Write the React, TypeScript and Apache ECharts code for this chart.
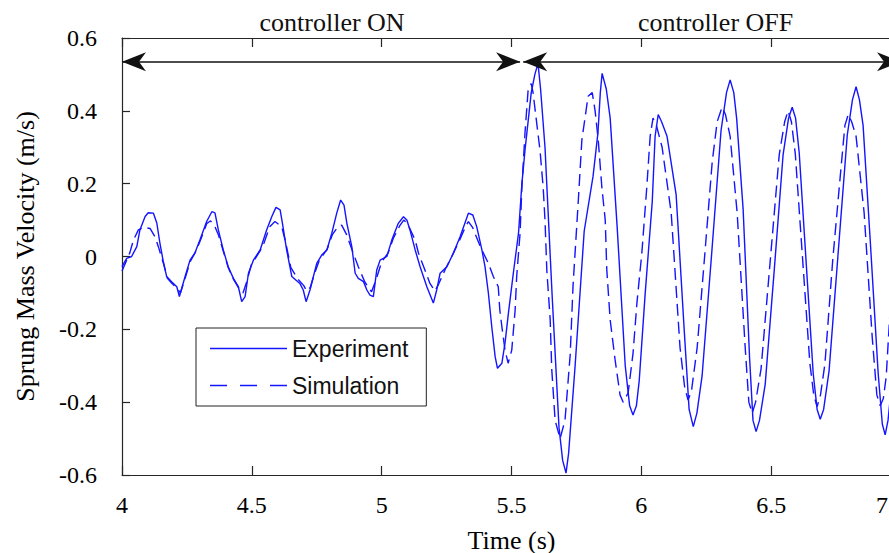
import React, { useEffect, useRef } from 'react';
import * as echarts from 'echarts';

// Experiment: [time (s), sprung mass velocity (m/s)]
const experiment: [number, number][] = [
  [4.000, -0.028], [4.018, -0.005], [4.037, 0.000], [4.057, 0.027], [4.069, 0.073], [4.089, 0.110],
  [4.101, 0.120], [4.121, 0.119], [4.134, 0.092], [4.146, 0.037], [4.158, -0.010], [4.172, -0.055],
  [4.191, -0.069], [4.211, -0.083], [4.221, -0.110], [4.243, -0.055], [4.262, -0.010], [4.281, 0.010],
  [4.300, 0.045], [4.326, 0.096], [4.346, 0.123], [4.358, 0.120], [4.371, 0.073], [4.390, 0.018],
  [4.409, -0.028], [4.429, -0.060], [4.448, -0.083], [4.461, -0.124], [4.474, -0.110], [4.487, -0.046],
  [4.506, -0.010], [4.532, 0.018], [4.557, 0.073], [4.577, 0.110], [4.593, 0.135], [4.609, 0.128],
  [4.619, 0.086], [4.634, 0.018], [4.654, -0.055], [4.686, -0.075], [4.698, -0.092], [4.709, -0.124],
  [4.724, -0.092], [4.737, -0.055], [4.750, -0.019], [4.769, 0.004], [4.789, 0.018], [4.808, 0.064],
  [4.827, 0.119], [4.842, 0.155], [4.855, 0.141], [4.866, 0.091], [4.885, 0.027], [4.898, -0.046],
  [4.910, -0.060], [4.930, -0.069], [4.943, -0.092], [4.955, -0.106], [4.968, -0.110], [4.981, -0.037],
  [4.994, -0.010], [5.020, 0.000], [5.039, 0.045], [5.064, 0.091], [5.084, 0.109], [5.097, 0.100],
  [5.109, 0.073], [5.129, 0.018], [5.148, -0.028], [5.174, -0.083], [5.199, -0.128], [5.212, -0.092],
  [5.225, -0.046], [5.251, -0.028], [5.276, 0.009], [5.302, 0.054], [5.334, 0.119], [5.351, 0.114],
  [5.366, 0.082], [5.386, 0.018], [5.398, -0.028], [5.411, -0.101], [5.424, -0.193], [5.437, -0.275],
  [5.446, -0.307], [5.463, -0.293], [5.475, -0.238], [5.488, -0.156], [5.507, -0.046], [5.527, 0.064],
  [5.540, 0.200], [5.552, 0.292], [5.576, 0.450], [5.590, 0.500], [5.602, 0.530], [5.612, 0.460],
  [5.629, 0.300], [5.656, -0.100], [5.683, -0.470], [5.697, -0.560], [5.710, -0.595], [5.720, -0.540],
  [5.745, -0.300], [5.780, 0.070], [5.814, 0.220], [5.833, 0.340], [5.842, 0.450], [5.849, 0.503],
  [5.865, 0.460], [5.880, 0.380], [5.907, 0.080], [5.938, -0.300], [5.955, -0.410], [5.968, -0.435],
  [5.981, -0.410], [5.992, -0.340], [6.015, -0.100], [6.042, 0.150], [6.053, 0.330], [6.065, 0.390],
  [6.078, 0.370], [6.099, 0.330], [6.134, 0.170], [6.165, -0.200], [6.184, -0.420], [6.200, -0.467],
  [6.214, -0.430], [6.234, -0.328], [6.271, 0.009], [6.307, 0.346], [6.328, 0.450], [6.342, 0.485],
  [6.356, 0.450], [6.367, 0.380], [6.392, 0.130], [6.417, -0.280], [6.430, -0.450], [6.442, -0.481],
  [6.455, -0.450], [6.477, -0.351], [6.512, -0.036], [6.546, 0.280], [6.567, 0.380], [6.581, 0.410],
  [6.594, 0.380], [6.608, 0.285], [6.635, -0.019], [6.662, -0.322], [6.677, -0.420], [6.689, -0.447],
  [6.702, -0.420], [6.723, -0.314], [6.758, 0.010], [6.793, 0.333], [6.813, 0.430], [6.827, 0.466],
  [6.840, 0.430], [6.854, 0.360], [6.881, 0.050], [6.912, -0.320], [6.928, -0.460], [6.939, -0.490],
  [6.950, -0.450], [6.960, -0.380], [6.978, -0.050], [6.997, 0.200],
];

// Simulation: [time (s), sprung mass velocity (m/s)]
const simulation: [number, number][] = [
  [4.000, -0.040], [4.018, -0.010], [4.030, 0.010], [4.044, 0.045], [4.063, 0.073], [4.085, 0.080],
  [4.108, 0.077], [4.127, 0.054], [4.140, 0.027], [4.160, -0.020], [4.175, -0.060], [4.191, -0.073],
  [4.211, -0.087], [4.225, -0.100], [4.243, -0.060], [4.262, -0.015], [4.285, 0.015], [4.305, 0.050],
  [4.326, 0.090], [4.341, 0.098], [4.358, 0.082], [4.371, 0.060], [4.390, 0.015], [4.409, -0.030],
  [4.429, -0.062], [4.448, -0.085], [4.466, -0.100], [4.480, -0.070], [4.498, -0.023], [4.542, 0.027],
  [4.569, 0.082], [4.589, 0.096], [4.615, 0.082], [4.630, 0.040], [4.650, -0.030], [4.675, -0.060],
  [4.700, -0.080], [4.711, -0.095], [4.725, -0.085], [4.740, -0.050], [4.760, -0.010], [4.790, 0.020],
  [4.810, 0.060], [4.830, 0.080], [4.846, 0.086], [4.865, 0.060], [4.885, 0.020], [4.910, -0.028],
  [4.935, -0.070], [4.961, -0.097], [4.980, -0.060], [5.000, -0.015], [5.025, 0.010], [5.045, 0.050],
  [5.070, 0.085], [5.085, 0.100], [5.100, 0.090], [5.129, 0.045], [5.142, 0.009], [5.168, -0.040],
  [5.186, -0.074], [5.205, -0.095], [5.220, -0.075], [5.245, -0.035], [5.270, 0.000], [5.300, 0.045],
  [5.325, 0.085], [5.334, 0.096], [5.350, 0.080], [5.380, 0.027], [5.411, -0.019], [5.430, -0.055],
  [5.449, -0.083], [5.455, -0.147], [5.463, -0.193], [5.475, -0.257], [5.487, -0.293], [5.501, -0.257],
  [5.514, -0.147], [5.520, -0.055], [5.533, 0.064], [5.540, 0.190], [5.552, 0.340], [5.564, 0.457],
  [5.576, 0.475], [5.583, 0.450], [5.610, 0.290], [5.622, 0.190], [5.629, 0.100], [5.636, -0.037],
  [5.649, -0.174], [5.655, -0.310], [5.668, -0.450], [5.687, -0.500], [5.706, -0.450], [5.726, -0.270],
  [5.737, -0.080], [5.757, 0.150], [5.771, 0.320], [5.795, 0.440], [5.811, 0.450], [5.822, 0.400],
  [5.834, 0.320], [5.848, 0.190], [5.861, 0.100], [5.867, -0.037], [5.880, -0.174], [5.899, -0.284],
  [5.918, -0.380], [5.930, -0.400], [5.949, -0.375], [5.968, -0.266], [5.983, -0.128], [6.002, 0.010],
  [6.021, 0.190], [6.034, 0.330], [6.045, 0.380], [6.058, 0.360], [6.080, 0.300], [6.115, 0.120],
  [6.149, -0.250], [6.167, -0.360], [6.180, -0.394], [6.193, -0.370], [6.215, -0.250], [6.246, 0.020],
  [6.273, 0.260], [6.292, 0.370], [6.311, 0.410], [6.324, 0.390], [6.342, 0.330], [6.369, 0.120],
  [6.400, -0.250], [6.414, -0.400], [6.427, -0.430], [6.440, -0.400], [6.461, -0.309], [6.496, -0.015],
  [6.531, 0.279], [6.552, 0.370], [6.565, 0.400], [6.578, 0.370], [6.593, 0.281], [6.621, -0.006],
  [6.649, -0.293], [6.664, -0.380], [6.677, -0.412], [6.690, -0.380], [6.707, -0.295], [6.737, -0.011],
  [6.766, 0.220], [6.784, 0.360], [6.797, 0.390], [6.810, 0.370], [6.827, 0.330], [6.858, 0.120],
  [6.889, -0.220], [6.907, -0.380], [6.920, -0.410], [6.932, -0.390], [6.943, -0.330], [6.966, -0.050],
  [6.997, 0.250],
];

const seriesNames = ['Experiment', 'Simulation'];
const phaseLabels = ['controller ON', 'controller OFF'];
const phaseLabelTimes = [4.809, 6.286];
const phaseArrowSpans: [number, number][] = [[4.0, 5.533], [5.545, 7.0]];
const arrowLevel = 0.535;

const SERIF = '"Liberation Serif", "Times New Roman", serif';
const SANS = '"Liberation Sans", Arial, sans-serif';
const BLUE = '#1414ff';
const AX = '#262626';
const ARROW = '#111111';

export default function App() {
  const ref = useRef<HTMLDivElement>(null);
  useEffect(() => {
    if (!ref.current) return;
    const chart = echarts.init(ref.current, null, { renderer: 'svg' });
    const axisCommon = {
      type: 'value' as const,
      splitLine: { show: false },
      axisLine: { show: true, onZero: false, lineStyle: { color: AX, width: 1.2 } },
    };
    chart.setOption({
      animation: false,
      backgroundColor: '#ffffff',
      grid: { left: 122, top: 38, width: 779, height: 437, outerBoundsMode: 'none', containLabel: false },
      legend: {
        data: [
          { name: seriesNames[0], icon: 'path://M0,0H77V1.6H0Z' },
          { name: seriesNames[1], icon: 'path://M0,0H17V1.6H0Z M30,0H47V1.6H30Z M60,0H77V1.6H60Z' },
        ],
        orient: 'vertical',
        left: 196,
        top: 328,
        padding: [9, 18, 9, 14],
        itemGap: 14,
        itemWidth: 77,
        itemHeight: 2,
        itemTextGap: 5,
        borderColor: '#222',
        borderWidth: 1,
        backgroundColor: '#ffffff',
        selectedMode: false,
        itemStyle: { color: BLUE },
        textStyle: { fontFamily: SANS, fontSize: 23, color: '#111' },
      },
      xAxis: [
        {
          ...axisCommon,
          min: 4,
          max: 7,
          interval: 0.5,
          position: 'bottom',
          name: 'Time (s)',
          nameLocation: 'middle',
          nameGap: 52,
          nameTextStyle: { fontFamily: SERIF, fontSize: 26, color: '#000' },
          axisTick: { show: true, inside: true, length: 9, lineStyle: { color: AX, width: 1.2 } },
          axisLabel: {
            margin: 18,
            fontFamily: SERIF,
            fontSize: 24,
            color: '#000',
            formatter: (v: number) => (v === 7 ? '{r|7}' : String(v)),
            rich: { r: { fontFamily: SERIF, fontSize: 24, color: '#000', padding: [0, 38, 0, 0] } },
          },
        },
        {
          ...axisCommon,
          min: 4,
          max: 7,
          interval: 0.5,
          position: 'top',
          axisTick: { show: true, inside: true, length: 9, lineStyle: { color: AX, width: 1.2 } },
          axisLabel: { show: false },
        },
      ],
      yAxis: [
        {
          ...axisCommon,
          min: -0.6,
          max: 0.6,
          interval: 0.2,
          position: 'left',
          name: 'Sprung Mass Velocity (m/s)',
          nameLocation: 'middle',
          nameGap: 84,
          nameTextStyle: { fontFamily: SERIF, fontSize: 26, color: '#000' },
          axisTick: { show: true, inside: true, length: 8, lineStyle: { color: AX, width: 1.2 } },
          axisLabel: {
            margin: 25,
            fontFamily: SERIF,
            fontSize: 24,
            color: '#000',
            formatter: (v: number) => (Math.abs(v) < 1e-9 ? '0' : v.toFixed(1)),
          },
        },
        {
          ...axisCommon,
          min: -0.6,
          max: 0.6,
          interval: 0.2,
          position: 'right',
          axisTick: { show: true, inside: true, length: 8, lineStyle: { color: AX, width: 1.2 } },
          axisLabel: { show: false },
        },
      ],
      series: [
        {
          name: seriesNames[0],
          type: 'line',
          data: experiment,
          symbol: 'none',
          showSymbol: false,
          clip: false,
          lineStyle: { color: BLUE, width: 1.4 },
          itemStyle: { color: BLUE },
          z: 3,
          markLine: {
            silent: true,
            symbol: ['none', 'none'],
            lineStyle: { color: ARROW, width: 1.6, type: 'solid' },
            label: { show: false },
            data: phaseArrowSpans.map(([a, b]) => [
              { coord: [a, arrowLevel] },
              { coord: [b, arrowLevel] },
            ]),
          },
          markPoint: {
            silent: true,
            symbol: 'circle',
            symbolSize: 1,
            itemStyle: { color: 'rgba(0,0,0,0)' },
            label: {
              show: true,
              position: 'inside',
              offset: [0, -16],
              formatter: '{b}',
              fontFamily: SERIF,
              fontSize: 26,
              color: '#111',
            },
            data: phaseLabels.map((name, i) => ({ name, coord: [phaseLabelTimes[i], 0.6] })),
          },
        },
        {
          name: seriesNames[1],
          type: 'line',
          data: simulation,
          symbol: 'none',
          showSymbol: false,
          clip: false,
          lineStyle: { color: BLUE, width: 1.4, type: [12, 6] },
          itemStyle: { color: BLUE },
          z: 2,
        },
      ],
    });

    // arrowheads at both ends of each phase arrow, placed through the axis scales
    const L = 24;
    const H = 9.5;
    const N = 17;
    const heads: any[] = [];
    phaseArrowSpans.forEach(([a, b]) => {
      const pa = chart.convertToPixel({ xAxisIndex: 0, yAxisIndex: 0 }, [a, arrowLevel]) as number[];
      const pb = chart.convertToPixel({ xAxisIndex: 0, yAxisIndex: 0 }, [b, arrowLevel]) as number[];
      heads.push({
        type: 'polygon',
        silent: true,
        z: 10,
        shape: { points: [[pa[0], pa[1]], [pa[0] + L, pa[1] - H], [pa[0] + N, pa[1]], [pa[0] + L, pa[1] + H]] },
        style: { fill: ARROW },
      });
      heads.push({
        type: 'polygon',
        silent: true,
        z: 10,
        shape: { points: [[pb[0], pb[1]], [pb[0] - L, pb[1] - H], [pb[0] - N, pb[1]], [pb[0] - L, pb[1] + H]] },
        style: { fill: ARROW },
      });
    });
    chart.setOption({ graphic: heads });

    return () => chart.dispose();
  }, []);
  return (
    <div
      ref={ref}
      style={{ position: 'fixed', left: 0, top: 0, width: 920, height: 553, background: '#fff' }}
    />
  );
}
